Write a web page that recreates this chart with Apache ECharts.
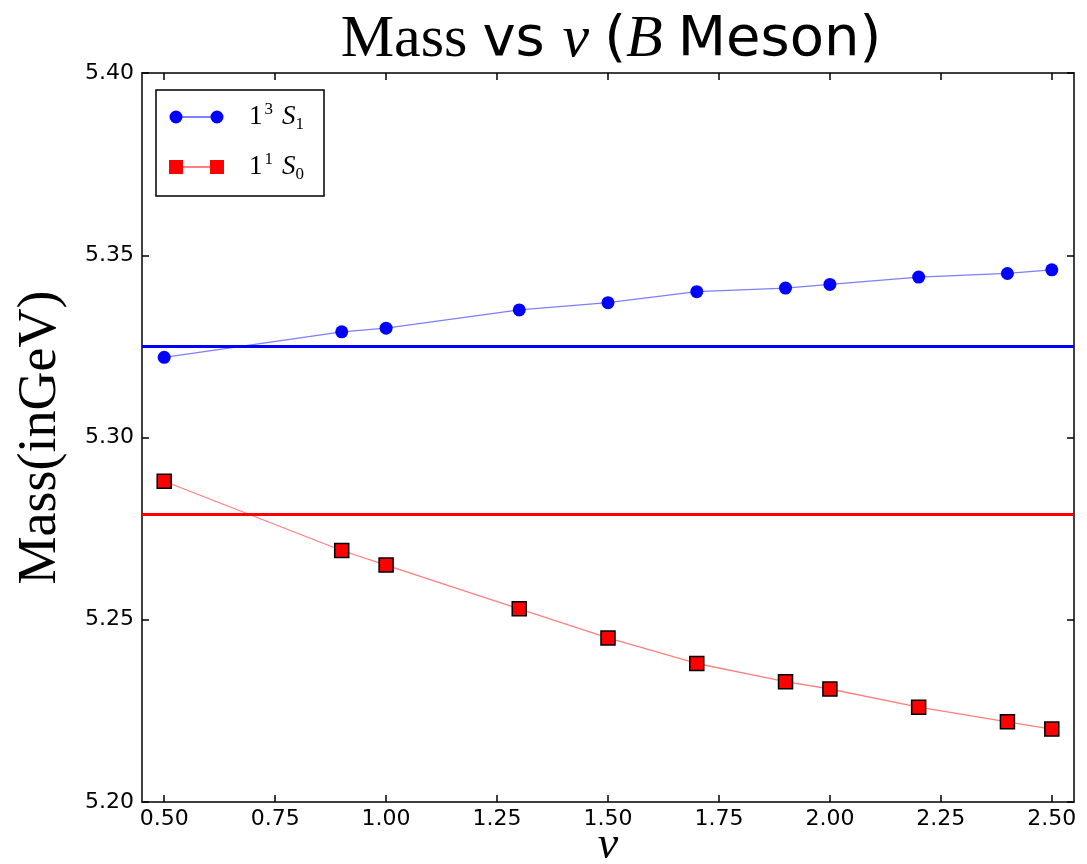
<!DOCTYPE html>
<html>
<head>
<meta charset="utf-8">
<title>Mass vs nu (B Meson)</title>
<script src="https://cdn.jsdelivr.net/npm/echarts@6/dist/echarts.min.js"></script>
<style>
  html, body { margin: 0; padding: 0; background: #fff; }
  #chart { width: 1087px; height: 864px; }
</style>
</head>
<body>
<div id="chart"></div>
<script>
// data
const nuValues = [0.5, 0.9, 1.0, 1.3, 1.5, 1.7, 1.9, 2.0, 2.2, 2.4, 2.5];
const tripletMass = [5.322, 5.329, 5.330, 5.335, 5.337, 5.340, 5.341, 5.342, 5.344, 5.345, 5.346]; // 1^3 S_1
const singletMass = [5.288, 5.269, 5.265, 5.253, 5.245, 5.238, 5.233, 5.231, 5.226, 5.222, 5.220]; // 1^1 S_0
const tripletRef = 5.325; // horizontal blue line
const singletRef = 5.279; // horizontal red line
const xTicks = [0.5, 0.75, 1.0, 1.25, 1.5, 1.75, 2.0, 2.25, 2.5];

const SERIF = 'Liberation Serif';
const SANS = 'DejaVu Sans';

// legend icons: marker - line - marker (55 x 14 box)
const circleIcon = 'path://M0.5,7A6.5,6.5,0,1,1,13.5,7A6.5,6.5,0,1,1,0.5,7Z M7,6.4L48,6.4L48,7.6L7,7.6Z M41.5,7A6.5,6.5,0,1,1,54.5,7A6.5,6.5,0,1,1,41.5,7Z M0,0L0.01,0L0.01,0.01Z M55,14L54.99,14L54.99,13.99Z';
const squareIcon = 'path://M0,0L14,0L14,14L0,14Z M14,6.4L41,6.4L41,7.6L14,7.6Z M41,0L55,0L55,14L41,14Z';

const pairs = arr => nuValues.map((x, i) => [x, arr[i]]);

const legendRich = {
    n: {fontFamily: SERIF, fontSize: 27, color: '#000', verticalAlign: 'middle', lineHeight: 32, padding: [0, 0, 0, 20]},
    sup: {fontFamily: SERIF, fontSize: 17, color: '#000', verticalAlign: 'top', lineHeight: 32, padding: [0, 9, 0, 2]},
    i: {fontFamily: SERIF, fontStyle: 'italic', fontSize: 27, color: '#000', verticalAlign: 'middle', lineHeight: 32},
    sub: {fontFamily: SERIF, fontSize: 17, color: '#000', verticalAlign: 'bottom', lineHeight: 32}
};

const tickCommon = {
    axisLine: {show: true, lineStyle: {color: '#000', width: 1.5}},
    splitLine: {show: false}
};

const myChart = echarts.init(document.getElementById('chart'), null, {renderer: 'canvas'});
myChart.setOption({
    animation: false,
    backgroundColor: '#fff',
    title: {
        left: 606,
        textAlign: 'center',
        top: 5,
        // spaces kept inside the tokens so they get the big font size
        text: '{s|Mass }{n|vs }{i|ν }{n|(}{i|B }{n|Meson)}',
        textStyle: {
            fontWeight: 'normal',
            rich: {
                s: {fontFamily: SERIF, fontSize: 60, fontWeight: 'normal', color: '#000'},
                n: {fontFamily: SANS, fontSize: 56, fontWeight: 'normal', color: '#000'},
                i: {fontFamily: SERIF, fontStyle: 'italic', fontSize: 60, fontWeight: 'normal', color: '#000'}
            }
        }
    },
    grid: {left: 142, right: 13, top: 73, bottom: 62, outerBoundsMode: 'none'},
    legend: {
        left: 156,
        top: 90,
        orient: 'vertical',
        padding: [11, 20, 13, 13],
        itemGap: 18,
        itemWidth: 55,
        itemHeight: 14,
        borderColor: '#000',
        borderWidth: 1.5,
        borderRadius: 0,
        backgroundColor: '#fff',
        data: [
            {name: 'triplet', icon: circleIcon},
            {name: 'singlet', icon: squareIcon, itemStyle: {borderWidth: 0}}
        ],
        formatter: name => name === 'triplet'
            ? '{n|1}{sup|3}{i|S}{sub|1}'
            : '{n|1}{sup|1}{i|S}{sub|0}',
        textStyle: {rich: legendRich}
    },
    xAxis: [
        Object.assign({
            type: 'value',
            min: 0.45,
            max: 2.55,
            name: 'ν',
            nameLocation: 'middle',
            nameGap: 21,
            nameMoveOverlap: false,
            nameTextStyle: {fontFamily: SERIF, fontStyle: 'italic', fontSize: 46, color: '#000', verticalAlign: 'top'},
            axisTick: {show: true, inside: true, length: 7, customValues: xTicks, lineStyle: {color: '#000', width: 1.5}},
            axisLabel: {customValues: xTicks, fontFamily: SANS, fontSize: 22, color: '#000', margin: 6,
                formatter: v => v.toFixed(2)}
        }, tickCommon),
        // top copy, only ticks
        Object.assign({
            type: 'value',
            position: 'top',
            min: 0.45,
            max: 2.55,
            axisTick: {show: true, inside: true, length: 7, customValues: xTicks, lineStyle: {color: '#000', width: 1.5}},
            axisLabel: {show: false}
        }, tickCommon)
    ],
    yAxis: [
        Object.assign({
            type: 'value',
            min: 5.20,
            max: 5.40,
            interval: 0.05,
            name: 'Mass(inGeV)',
            nameLocation: 'middle',
            nameGap: 74,
            nameMoveOverlap: false,
            nameTextStyle: {fontFamily: SERIF, fontSize: 54, color: '#000'},
            axisTick: {show: true, inside: true, length: 7, lineStyle: {color: '#000', width: 1.5}},
            axisLabel: {fontFamily: SANS, fontSize: 22, color: '#000', margin: 8,
                formatter: v => v.toFixed(2)}
        }, tickCommon),
        // right copy, only ticks
        Object.assign({
            type: 'value',
            position: 'right',
            min: 5.20,
            max: 5.40,
            interval: 0.05,
            axisTick: {show: true, inside: true, length: 7, lineStyle: {color: '#000', width: 1.5}},
            axisLabel: {show: false}
        }, tickCommon)
    ],
    series: [
        {
            name: 'triplet',
            type: 'line',
            data: pairs(tripletMass),
            symbol: 'circle',
            symbolSize: 13,
            itemStyle: {color: '#0000ff'},
            lineStyle: {color: 'rgba(40,40,255,0.6)', width: 1.3},
            z: 3,
            markLine: {
                silent: true,
                precision: 3,
                symbol: ['none', 'none'],
                label: {show: false},
                lineStyle: {color: '#0000ff', width: 3, type: 'solid'},
                data: [{yAxis: tripletRef}]
            }
        },
        {
            name: 'singlet',
            type: 'line',
            data: pairs(singletMass),
            symbol: 'rect',
            symbolSize: 14,
            itemStyle: {color: '#ff0000', borderColor: '#000', borderWidth: 1.5},
            lineStyle: {color: 'rgba(255,40,40,0.6)', width: 1.3},
            z: 3,
            markLine: {
                silent: true,
                precision: 3,
                symbol: ['none', 'none'],
                label: {show: false},
                lineStyle: {color: '#ff0000', width: 3, type: 'solid'},
                data: [{yAxis: singletRef}]
            }
        }
    ]
});
</script>
</body>
</html>
